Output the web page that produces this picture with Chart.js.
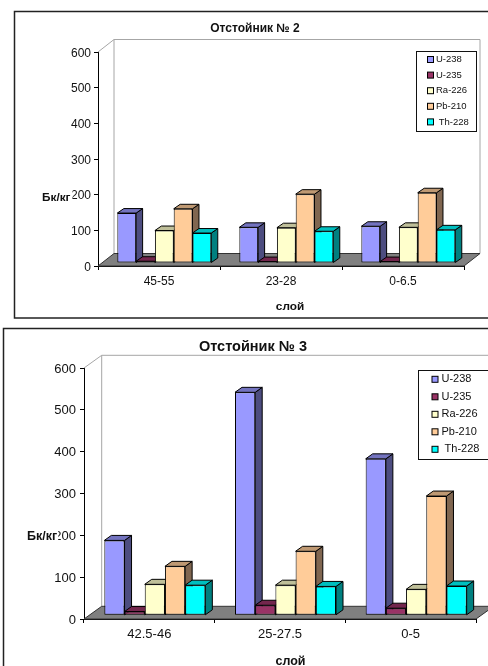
<!DOCTYPE html>
<html>
<head>
<meta charset="utf-8">
<style>
  html, body { margin: 0; padding: 0; background: #fff; width: 488px; height: 666px; overflow: hidden; }
  canvas { position: absolute; left: 0; }
  #tank2 { top: 0; }
  #tank3 { top: 322px; }
</style>
<script src="https://cdn.jsdelivr.net/npm/chart.js@4"></script>
</head>
<body>
<canvas id="tank2" width="488" height="322"></canvas>
<canvas id="tank3" width="488" height="344"></canvas>
<script>
const isotopes = ['U-238', 'U-235', 'Ra-226', 'Pb-210', ' Th-228'];
const yTicks = [0, 100, 200, 300, 400, 500, 600];

const layers2 = ['45-55', '23-28', '0-6.5'];
const u238Tank2 = [140, 100, 103];
const u235Tank2 = [5, 4, 4];
const ra226Tank2 = [91, 99, 100];
const pb210Tank2 = [152, 193, 197];
const th228Tank2 = [84, 89, 93];

const layers3 = ['42.5-46', '25-27.5', '0-5'];
const u238Tank3 = [179, 533, 374];
const u235Tank3 = [9, 24, 17];
const ra226Tank3 = [74, 72, 62];
const pb210Tank3 = [117, 153, 285];
const th228Tank3 = [72, 69, 70];

const faceColors = ['#9999ff', '#993366', '#ffffcc', '#ffcc99', '#00ffff'];
const topColors = ['#7373bf', '#73264d', '#bfbf99', '#bf9973', '#00bfbf'];
const sideColors = ['#4d4d80', '#4d1a33', '#808066', '#806650', '#008080'];

Chart.defaults.font.family = '"Liberation Sans", Arial, sans-serif';
Chart.defaults.color = '#111';

function drawBarSides(ctx, meta, o) {
    ctx.strokeStyle = '#000';
    ctx.lineWidth = 1;
    meta.data.forEach((bar) => {
        const r = bar.x + bar.width / 2;
        const l = bar.x - bar.width / 2;
        ctx.fillStyle = sideColors[meta.index];
        ctx.beginPath();
        ctx.moveTo(r, bar.y);
        ctx.lineTo(r + o.barDepthX, bar.y - o.barDepthY);
        ctx.lineTo(r + o.barDepthX, bar.base - o.barDepthY);
        ctx.lineTo(r, bar.base);
        ctx.closePath();
        ctx.fill();
        ctx.stroke();
        ctx.fillStyle = topColors[meta.index];
        ctx.beginPath();
        ctx.moveTo(l, bar.y);
        ctx.lineTo(l + o.barDepthX, bar.y - o.barDepthY);
        ctx.lineTo(r + o.barDepthX, bar.y - o.barDepthY);
        ctx.lineTo(r, bar.y);
        ctx.closePath();
        ctx.fill();
        ctx.stroke();
    });
}

// Walls, floor and frame behind the bars, extruded bars, plus the fixed text
const box3d = {
    id: 'box3d',
    beforeDatasetsDraw(chart, args, o) {
        const { ctx, chartArea: a } = chart;
        ctx.save();
        ctx.lineWidth = o.frameWidth;
        ctx.strokeStyle = '#222';
        ctx.strokeRect(o.frame[0], o.frame[1], o.frame[2], o.frame[3]);

        // back wall and the slanted top of the left wall
        ctx.strokeStyle = '#a6a6a6';
        ctx.lineWidth = 1;
        ctx.beginPath();
        ctx.moveTo(a.left, a.top);
        ctx.lineTo(a.left + o.depthX, a.top - o.depthY);
        ctx.lineTo(a.right + o.depthX, a.top - o.depthY);
        ctx.lineTo(a.right + o.depthX, a.bottom - o.depthY);
        ctx.moveTo(a.left + o.depthX, a.top - o.depthY);
        ctx.lineTo(a.left + o.depthX, a.bottom - o.depthY);
        ctx.stroke();

        // floor
        ctx.fillStyle = '#808080';
        ctx.strokeStyle = '#333';
        ctx.beginPath();
        ctx.moveTo(a.left, a.bottom);
        ctx.lineTo(a.right, a.bottom);
        ctx.lineTo(a.right + o.depthX, a.bottom - o.depthY);
        ctx.lineTo(a.left + o.depthX, a.bottom - o.depthY);
        ctx.closePath();
        ctx.fill();
        ctx.stroke();

        // paint left to right so each bar covers the side of the one before it
        ctx.translate(o.shiftX, o.shiftY);
        chart.getSortedVisibleDatasetMetas().forEach((meta) => {
            drawBarSides(ctx, meta, o);
            meta.controller.draw();
        });
        ctx.restore();
        return false;
    },
    afterDraw(chart, args, o) {
        const { ctx } = chart;
        ctx.save();
        ctx.textBaseline = 'middle';
        ctx.fillStyle = '#111';

        ctx.textAlign = 'center';
        ctx.font = `bold ${o.titleSize}px "Liberation Sans"`;
        ctx.fillText(o.title, o.titleX, o.titleY);

        ctx.font = `bold ${o.axisTitleSize}px "Liberation Sans"`;
        ctx.fillText('слой', o.layerX, o.layerY);

        // the unit label sits on a white patch that cuts into the 200 tick label
        ctx.textAlign = 'left';
        const unit = 'Бк/кг';
        const unitW = ctx.measureText(unit).width;
        ctx.fillStyle = '#fff';
        ctx.fillRect(o.unitX - 1, o.unitY - 8, unitW + o.unitPatch, 15);
        ctx.fillStyle = '#111';
        ctx.fillText(unit, o.unitX, o.unitY);

        // legend box
        ctx.fillStyle = '#fff';
        ctx.fillRect(o.legend.x, o.legend.y, o.legend.w, o.legend.h);
        ctx.strokeStyle = '#111';
        ctx.lineWidth = 1;
        ctx.strokeRect(o.legend.x, o.legend.y, o.legend.w, o.legend.h);
        ctx.font = `${o.legend.size}px "Liberation Sans"`;
        chart.data.datasets.forEach((ds, i) => {
            const y = o.legend.firstY + i * o.legend.step;
            ctx.fillStyle = ds.backgroundColor;
            ctx.fillRect(o.legend.swatchX, y - 3, 6, 6);
            ctx.strokeStyle = '#000';
            ctx.strokeRect(o.legend.swatchX, y - 3, 6, 6);
            ctx.fillStyle = '#111';
            ctx.fillText(ds.label, o.legend.textX, y);
        });
        ctx.restore();
    }
};

function tankChart(id, layers, series, geo) {
    const datasets = isotopes.map((label, i) => ({
        label,
        data: series[i],
        backgroundColor: faceColors[i],
        borderColor: '#000',
        borderWidth: 1,
        borderSkipped: false,
        categoryPercentage: geo.groupShare,
        barPercentage: 1
    }));

    return new Chart(document.getElementById(id).getContext('2d'), {
        type: 'bar',
        data: { labels: layers, datasets },
        plugins: [box3d],
        options: {
            responsive: false,
            animation: false,
            layout: { padding: geo.padding },
            plugins: {
                legend: { display: false },
                tooltip: { enabled: false },
                box3d: geo
            },
            scales: {
                x: {
                    grid: { offset: true, drawOnChartArea: false, tickLength: 4, color: '#000' },
                    border: { color: '#000' },
                    ticks: { font: { size: geo.tickSize }, padding: geo.xTickPadding, maxRotation: 0 },
                    afterFit(s) { s.height = 30; }
                },
                y: {
                    min: yTicks[0],
                    max: yTicks[yTicks.length - 1],
                    afterBuildTicks(s) { s.ticks = yTicks.map((value) => ({ value })); },
                    grid: { drawOnChartArea: false, tickLength: 4, color: '#000' },
                    border: { color: '#000' },
                    ticks: { font: { size: geo.tickSize }, padding: geo.yTickPadding, labelOffset: geo.yLabelOffset },
                    afterFit(s) { s.width = 40; }
                }
            }
        }
    });
}

tankChart('tank2', layers2, [u238Tank2, u235Tank2, ra226Tank2, pb210Tank2, th228Tank2], {
    padding: { left: 58, right: 24, top: 52, bottom: 26 },
    groupShare: 0.77,
    tickSize: 12,
    xTickPadding: 4,
    yTickPadding: 3,
    yLabelOffset: 1.5,
    frame: [14.5, 11.5, 490, 306.5],
    frameWidth: 1.5,
    depthX: 16, depthY: 12.5,
    shiftX: 5.3, shiftY: -3,
    barDepthX: 6.5, barDepthY: 4.5,
    title: 'Отстойник № 2', titleX: 255, titleY: 29, titleSize: 12,
    axisTitleSize: 11.8,
    layerX: 290, layerY: 307,
    unitX: 42, unitY: 198, unitPatch: 3,
    legend: { x: 416.5, y: 51.5, w: 60, h: 80, size: 9.5, firstY: 59.5, step: 15.6, swatchX: 427.5, textX: 436 }
});

tankChart('tank3', layers3, [u238Tank3, u235Tank3, ra226Tank3, pb210Tank3, th228Tank3], {
    padding: { left: 44, right: 12, top: 46, bottom: 17 },
    groupShare: 0.773,
    tickSize: 13,
    xTickPadding: 4,
    yTickPadding: 4,
    yLabelOffset: 1,
    frame: [3.5, 6.5, 490, 360],
    frameWidth: 1.5,
    depthX: 17.7, depthY: 12.7,
    shiftX: 5.5, shiftY: -3.7,
    barDepthX: 7, barDepthY: 5,
    title: 'Отстойник № 3', titleX: 253, titleY: 25, titleSize: 14.5,
    axisTitleSize: 12.5,
    layerX: 290.5, layerY: 340,
    unitX: 27, unitY: 215, unitPatch: 2,
    legend: { x: 418.5, y: 48.5, w: 80, h: 89, size: 11, firstY: 57.3, step: 17.5, swatchX: 432, textX: 441.5 }
});
</script>
</body>
</html>
